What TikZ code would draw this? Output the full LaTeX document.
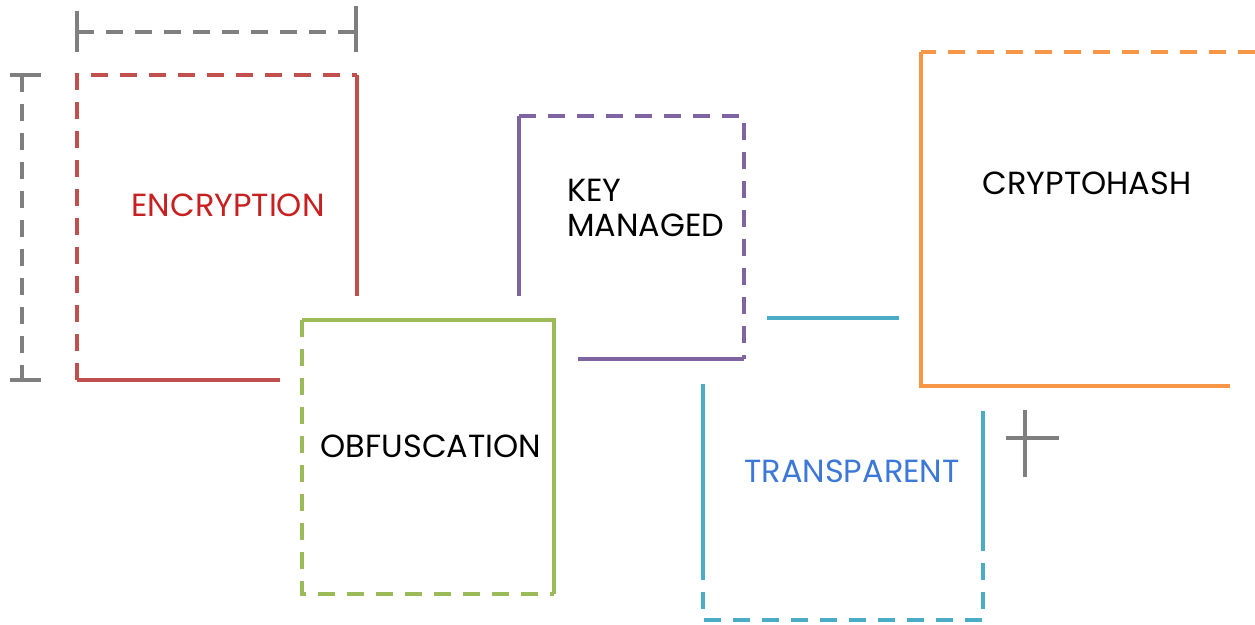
\documentclass[tikz,border=0pt]{standalone}
\usepackage{fontspec}
\setmainfont{Poppins}
\usepackage{tikz}

\definecolor{encred}{RGB}{192,80,77}
\definecolor{enctext}{RGB}{200,32,32}
\definecolor{obfgreen}{RGB}{155,187,89}
\definecolor{keypurple}{RGB}{128,100,162}
\definecolor{transcyan}{RGB}{75,172,198}
\definecolor{transtext}{RGB}{60,120,216}
\definecolor{hashorange}{RGB}{247,150,70}
\definecolor{dimgrey}{RGB}{127,127,127}

\tikzset{
  edge/.style={line width=3pt},
  dashedge/.style={line width=3pt, dash pattern=on 12.75pt off 9pt},
  label/.style={inner sep=0.75pt, font=\fontsize{24}{26}\selectfont},
}

\begin{document}
\begin{tikzpicture}[x=0.75pt,y=0.75pt,yscale=-1,xscale=1]
\useasboundingbox (0,0) rectangle (1255,624);

%Dimension: top
\draw [dimgrey, dashedge]  (77,32) -- (356,32) ;
\draw [dimgrey, edge]  (77,11) -- (77,52) ;
\draw [dimgrey, edge]  (356,6) -- (356,52) ;
%Dimension: left
\draw [dimgrey, dashedge]  (22,75) -- (22,380) ;
\draw [dimgrey, edge]  (10,75) -- (41,75) ;
\draw [dimgrey, edge]  (10,380) -- (41,380) ;

%Shape: encryption
\draw [encred, dashedge]  (77,380) -- (77,75) -- (357,75) ;
\draw [encred, edge]  (357,75) -- (357,296) ;
\draw [encred, edge]  (77,380) -- (280,380) ;

%Shape: obfuscation
\draw [obfgreen, edge]  (302,320) -- (554,320) -- (554,594) ;
\draw [obfgreen, dashedge]  (302,320) -- (302,594) -- (554,594) ;

%Shape: key managed
\draw [keypurple, edge]  (519,296) -- (519,116) ;
\draw [keypurple, dashedge]  (519,116) -- (744,116) -- (744,359) ;
\draw [keypurple, edge]  (578,359) -- (744,359) ;

%Shape: transparent
\draw [transcyan, edge]  (767,318) -- (899,318) ;
\draw [transcyan, edge]  (703,384) -- (703,563) ;
\draw [transcyan, dashedge]  (703,563) -- (703,620) -- (983,620) -- (983,544) ;
\draw [transcyan, edge]  (983,544) -- (983,411) ;

%Shape: cryptohash
\draw [hashorange, dashedge]  (1255,52) -- (921,52) ;
\draw [hashorange, edge]  (921,52) -- (921,386) -- (1230,386) ;

%Cross
\draw [dimgrey, edge]  (1006,438) -- (1059,438) ;
\draw [dimgrey, edge]  (1025,410) -- (1025,477) ;

% Text Node
\node [label, text=enctext] (enc) at (228,205) {ENCRYPTION};
% Text Node
\node [label] (obf) at (431,446) {OBFUSCATION};
% Text Node
\node [label, anchor=west, align=left] (key) at (566,208) {KEY\\MANAGED};
% Text Node
\node [label, text=transtext] (trans) at (852,471) {TRANSPARENT};
% Text Node
\node [label] (hash) at (1087,183) {CRYPTOHASH};
\end{tikzpicture}
\end{document}
